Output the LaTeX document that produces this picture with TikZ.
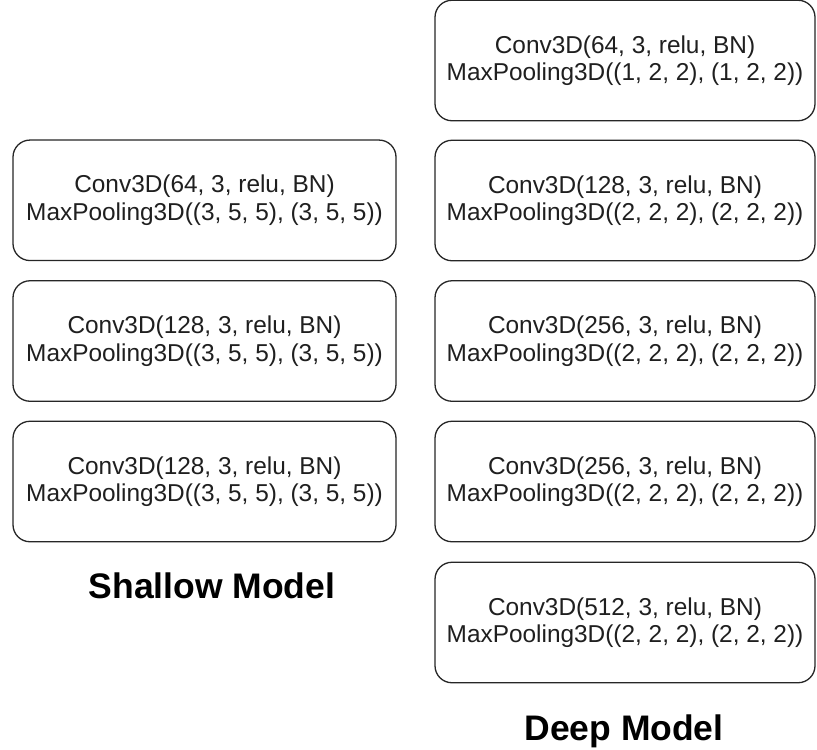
\documentclass[tikz,border=0pt]{standalone}
\usepackage{fontspec}
\setmainfont{Liberation Sans}
\begin{document}
\begin{tikzpicture}[x=1pt, y=-1pt,
  layer/.style={draw=black!85, line width=1.3pt, rounded corners=17pt,
    fill=white, text=black!88, align=center, inner sep=0pt,
    font=\fontsize{24.4}{27.5}\selectfont},
  lcol/.style={layer, minimum width=383pt, minimum height=120.5pt},
  rcol/.style={layer, minimum width=380pt, minimum height=120.5pt},
  caption/.style={font=\fontsize{35.5}{40}\selectfont\bfseries, text=black, inner sep=0pt, anchor=base}]
\useasboundingbox (0,0) rectangle (817,750);

% shallow network
\node[lcol] (s1) at (204.5,200.3) {Conv3D(64, 3, relu, BN)\\MaxPooling3D((3, 5, 5), (3, 5, 5))};
\node[lcol] (s2) at (204.5,341) {Conv3D(128, 3, relu, BN)\\MaxPooling3D((3, 5, 5), (3, 5, 5))};
\node[lcol] (s3) at (204.5,481.5) {Conv3D(128, 3, relu, BN)\\MaxPooling3D((3, 5, 5), (3, 5, 5))};
\node[caption] (st) at (212,598) {Shallow Model};

% deep network
\node[rcol] (d1) at (625,60.5) {Conv3D(64, 3, relu, BN)\\MaxPooling3D((1, 2, 2), (1, 2, 2))};
\node[rcol] (d2) at (625,200.5) {Conv3D(128, 3, relu, BN)\\MaxPooling3D((2, 2, 2), (2, 2, 2))};
\node[rcol] (d3) at (625,341) {Conv3D(256, 3, relu, BN)\\MaxPooling3D((2, 2, 2), (2, 2, 2))};
\node[rcol] (d4) at (625,481.5) {Conv3D(256, 3, relu, BN)\\MaxPooling3D((2, 2, 2), (2, 2, 2))};
\node[rcol] (d5) at (625,622.5) {Conv3D(512, 3, relu, BN)\\MaxPooling3D((2, 2, 2), (2, 2, 2))};
\node[caption] (dt) at (624,740) {Deep Model};
\end{tikzpicture}
\end{document}
